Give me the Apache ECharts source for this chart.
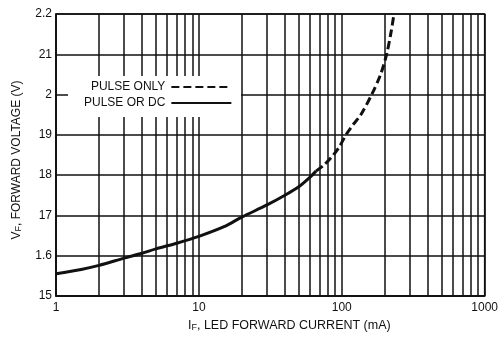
<!DOCTYPE html>
<html><head><meta charset="utf-8">
<script src="https://cdn.jsdelivr.net/npm/echarts@6/dist/echarts.min.js"></script>
<style>html,body{margin:0;padding:0;background:#fff}#c{width:501px;height:342px}</style>
</head><body><div id="c"></div>
<script>
const yTickValues = [1.5, 1.6, 1.7, 1.8, 1.9, 2.0, 2.1, 2.2];
const yTickLabels = ['15', '1.6', '17', '18', '19', '2', '21', '2.2'];
const xTickValues = [1, 10, 100, 1000];
const xTickLabels = ['1', '10', '100', '1000'];
const xMinorGrid = [2, 3, 4, 5, 6, 7, 8, 9, 20, 30, 40, 50, 60, 70, 80, 90, 200, 300, 400, 500, 600, 700, 800, 900];
const pulseOrDcCurrent = [1, 1.5, 2, 3, 4, 5, 7, 10, 15, 20, 30, 40, 50, 60, 66];
const pulseOrDcVoltage = [1.555, 1.566, 1.576, 1.594, 1.606, 1.617, 1.631, 1.648, 1.672, 1.696, 1.726, 1.75, 1.771, 1.795, 1.81];
const pulseOnlyCurrent = [66, 75, 85, 96, 107, 120, 136, 162, 187, 206, 220, 232];
const pulseOnlyVoltage = [1.81, 1.825, 1.845, 1.87, 1.9, 1.925, 1.95, 2.0, 2.05, 2.1, 2.15, 2.2];

const FONT = '"Liberation Sans", Arial, sans-serif';
const INK = '#111';
const zip = (xs, ys) => xs.map((x, i) => [x, ys[i]]);
const lookup = (vals, labels, v) => { const i = vals.findIndex(t => Math.abs(t - v) < 1e-6 * Math.max(1, t)); return i >= 0 ? labels[i] : ''; };

const chart = echarts.init(document.getElementById('c'));
chart.setOption({
  animation: false,
  backgroundColor: '#fff',
  grid: { left: 56, right: 13, top: 14, bottom: 46, show: true, borderColor: INK, borderWidth: 1.5 },
  graphic: [{
    type: 'rect', left: 68, top: 76, z: 50, silent: true,
    shape: { width: 173, height: 41 }, style: { fill: '#fff' }
  }],
  legend: {
    data: ['PULSE ONLY', 'PULSE OR DC'],
    orient: 'vertical', left: 84, top: 81, align: 'right', z: 60,
    itemWidth: 60, itemHeight: 14, itemGap: 4, padding: 0,
    itemStyle: { opacity: 0 },
    textStyle: { fontFamily: FONT, fontSize: 12, color: INK, padding: [0, 1, 0, 0] }
  },
  xAxis: {
    type: 'log', logBase: 10, min: 1, max: 1000,
    axisLine: { show: true, lineStyle: { color: INK, width: 1.5 } },
    axisTick: { show: false },
    splitLine: { show: true, lineStyle: { color: INK, width: 1.5 } },
    axisLabel: { fontFamily: FONT, fontSize: 12, color: INK, margin: 6,
      formatter: v => lookup(xTickValues, xTickLabels, v) },
    name: 'I{sub|F}, LED FORWARD CURRENT (mA)',
    nameLocation: 'middle', nameGap: 19,
    nameTextStyle: {
      fontFamily: FONT, fontSize: 12.5, color: INK, padding: [0, 0, 0, 38],
      rich: { sub: { fontFamily: FONT, fontSize: 9, color: INK, verticalAlign: 'bottom', padding: [4, 0, 0, 0] } }
    }
  },
  yAxis: {
    type: 'value', min: 1.5, max: 2.2, interval: 0.1,
    axisLine: { show: true, lineStyle: { color: INK, width: 1.5 } },
    axisTick: { show: false },
    splitLine: { show: true, lineStyle: { color: INK, width: 1.5 } },
    axisLabel: {
      fontFamily: FONT, fontSize: 12, color: INK, margin: 4,
      formatter: v => lookup(yTickValues, yTickLabels, v)
    },
    name: 'V{sub|F}, FORWARD VOLTAGE (V)',
    nameLocation: 'middle', nameGap: 33,
    nameTextStyle: {
      fontFamily: FONT, fontSize: 12, color: INK, padding: [0, 10, 0, 0],
      rich: { sub: { fontFamily: FONT, fontSize: 9, color: INK, verticalAlign: 'bottom', padding: [4, 0, 0, 0] } }
    }
  },
  series: [
    {
      name: 'PULSE ONLY', type: 'line', smooth: 0.3, symbol: 'none',
      lineStyle: { color: INK, width: 3, type: [8, 4] },
      itemStyle: { color: INK },
      data: zip(pulseOnlyCurrent, pulseOnlyVoltage), z: 3
    },
    {
      name: 'PULSE OR DC', type: 'line', smooth: 0.3, symbol: 'none',
      lineStyle: { color: INK, width: 3 },
      itemStyle: { color: INK },
      data: zip(pulseOrDcCurrent, pulseOrDcVoltage), z: 3,
      markLine: {
        silent: true, symbol: 'none', animation: false,
        label: { show: false },
        lineStyle: { color: INK, width: 1.5, type: 'solid' },
        emphasis: { disabled: true },
        data: xMinorGrid.map(v => ({ xAxis: v }))
      }
    }
  ]
});
</script></body></html>
